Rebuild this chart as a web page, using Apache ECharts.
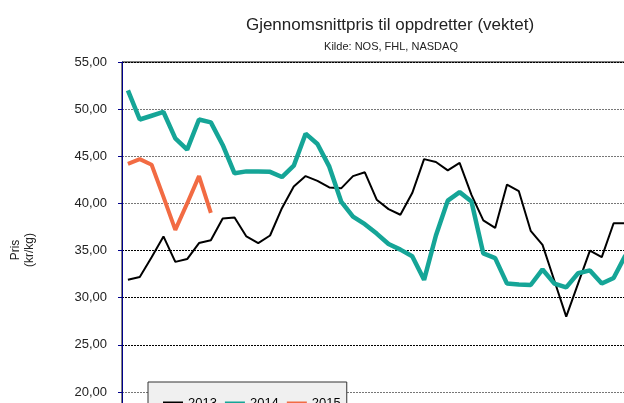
<!DOCTYPE html>
<html>
<head>
<meta charset="utf-8">
<script src="https://cdn.jsdelivr.net/npm/echarts@6/dist/echarts.min.js"></script>
<style>
  html, body { margin: 0; padding: 0; background: #fff; }
  #main { width: 624px; height: 403px; }
</style>
</head>
<body>
<div id="main"></div>
<script>
// uker (akse-etiketter ligger utenfor bildet)
var weeks = ['1', '2', '3', '4', '5', '6', '7', '8', '9', '10', '11', '12', '13',
  '14', '15', '16', '17', '18', '19', '20', '21', '22', '23', '24', '25', '26',
  '27', '28', '29', '30', '31', '32', '33', '34', '35', '36', '37', '38', '39',
  '40', '41', '42', '43', '44', '45', '46', '47', '48', '49', '50', '51', '52'];

// pris kr/kg, lest av bildet (bare synlig del)
var price2013 = [31.9, 32.2, 34.3, 36.5, 33.8, 34.1, 35.8, 36.1, 38.4, 38.5,
  36.5, 35.8, 36.6, 39.5, 41.8, 42.9, 42.4, 41.7, 41.6, 42.9,
  43.3, 40.4, 39.4, 38.8, 41.1, 44.7, 44.4, 43.5, 44.3, 40.9,
  38.2, 37.4, 42.0, 41.3, 37.1, 35.6, 31.8, 28.0, 31.5, 35.0,
  34.3, 37.9, 37.9];
var price2014 = [52.0, 48.9, 49.3, 49.7, 46.9, 45.7, 48.9, 48.6, 46.2, 43.2,
  43.4, 43.4, 43.35, 42.8, 44.0, 47.4, 46.3, 43.9, 40.2, 38.6,
  37.8, 36.8, 35.7, 35.1, 34.4, 31.9, 36.6, 40.3, 41.2, 40.2,
  34.7, 34.2, 31.5, 31.4, 31.35, 33.0, 31.5, 31.1, 32.6, 32.9,
  31.5, 32.1, 34.5];
var price2015 = [44.2, 44.7, 44.1, 40.7, 37.2, 40.0, 42.9, 39.0];

var yTicks = { min: 0, max: 55, step: 5 };

var chart = echarts.init(document.getElementById('main'), null, { renderer: 'canvas' });

var option = {
  animation: false,
  backgroundColor: '#fff',
  title: [
    {
      text: 'Gjennomsnittpris til oppdretter (vektet)',
      left: 385,
      top: 12,
      textAlign: 'center',
      textStyle: { fontFamily: 'Liberation Sans', fontSize: 17, fontWeight: 'normal', color: '#222' }
    },
    {
      text: 'Kilde: NOS, FHL, NASDAQ',
      left: 386,
      top: 36,
      textAlign: 'center',
      textStyle: { fontFamily: 'Liberation Sans', fontSize: 11, fontWeight: 'normal', color: '#222' }
    }
  ],
  graphic: [
    {
      type: 'text',
      x: 23,
      y: 250,
      rotation: Math.PI / 2,
      style: {
        text: 'Pris\n(kr/kg)',
        fontFamily: 'Liberation Sans',
        fontSize: 12,
        fill: '#222',
        textAlign: 'center',
        textVerticalAlign: 'middle',
        lineHeight: 14
      }
    }
  ],
  legend: {
    left: 148,
    top: 382,
    padding: [15, 6, 12, 15],
    icon: 'rect',
    itemWidth: 20,
    itemHeight: 4,
    itemGap: 8,
    backgroundColor: '#f0f0f0',
    borderColor: '#333',
    borderWidth: 1,
    borderRadius: 0,
    data: ['2013', '2014', '2015'],
    textStyle: { fontFamily: 'Liberation Sans', fontSize: 13, color: '#000' }
  },
  grid: {
    left: 122,
    top: 62,
    width: 616,
    height: 518.6,
    outerBoundsMode: 'none',
    containLabel: false,
    show: true,
    borderColor: '#000',
    borderWidth: 1,
    backgroundColor: 'transparent'
  },
  xAxis: {
    type: 'category',
    data: weeks,
    boundaryGap: true,
    axisLine: { lineStyle: { color: '#00008b' } },
    axisTick: { show: false },
    axisLabel: { show: false },
    splitLine: { show: false }
  },
  yAxis: {
    type: 'value',
    min: yTicks.min,
    max: yTicks.max,
    interval: yTicks.step,
    axisLine: { show: true, lineStyle: { color: '#00008b', width: 1 } },
    axisTick: { show: true, length: 4, lineStyle: { color: '#00008b' } },
    axisLabel: {
      margin: 15,
      fontFamily: 'Liberation Sans',
      fontSize: 13,
      color: '#222',
      formatter: function (v) { return v.toFixed(2).replace('.', ','); }
    },
    splitLine: {
      show: true,
      lineStyle: {
        color: ['#000', '#000', '#000', '#000', '#777', '#000', '#000', '#000', '#777', '#777', '#777', '#000'],
        width: 1,
        type: [2, 1]
      }
    }
  },
  series: [
    {
      name: '2013',
      type: 'line',
      data: price2013,
      symbol: 'none',
      color: '#000',
      lineStyle: { color: '#000', width: 2 }
    },
    {
      name: '2014',
      type: 'line',
      data: price2014,
      symbol: 'none',
      color: '#15a597',
      lineStyle: { color: '#15a597', width: 4.5 }
    },
    {
      name: '2015',
      type: 'line',
      data: price2015,
      symbol: 'none',
      color: '#f26b43',
      lineStyle: { color: '#f26b43', width: 4 }
    }
  ]
};

chart.setOption(option);
</script>
</body>
</html>
